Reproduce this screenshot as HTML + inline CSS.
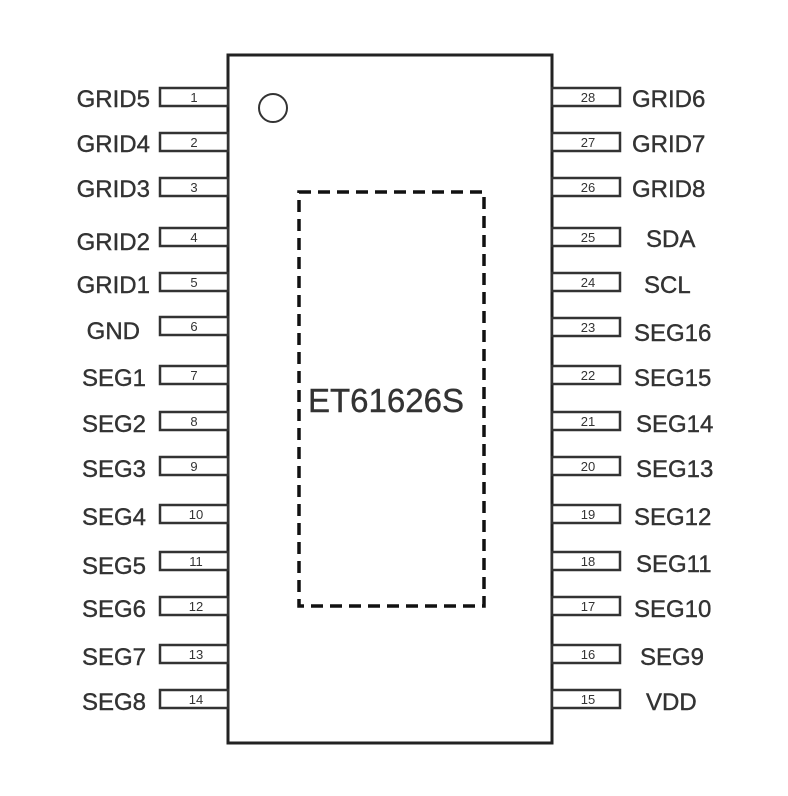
<!DOCTYPE html>
<html><head><meta charset="utf-8"><style>
html,body{margin:0;padding:0;background:#fff;}
svg{display:block;}
text{font-family:"Liberation Sans",Arial,sans-serif;fill:#333;}
.lbl text{stroke:#333;stroke-width:0.4;}
</style></head><body>
<svg width="788" height="796" viewBox="0 0 788 796" xmlns="http://www.w3.org/2000/svg">
<rect x="228" y="55" width="324" height="688" fill="#fff" stroke="#222" stroke-width="3"/>
<circle cx="273" cy="108" r="14" fill="none" stroke="#333" stroke-width="2"/>
<rect x="299" y="192" width="185" height="414" fill="none" stroke="#111" stroke-width="3.5" stroke-dasharray="12,7"/>
<text x="386" y="412" font-size="33" text-anchor="middle" style="stroke:#333;stroke-width:0.4">ET61626S</text>
<g fill="#fff" stroke="#333" stroke-width="2.5">
<rect x="160" y="88" width="68" height="18"/>
<rect x="160" y="133" width="68" height="18"/>
<rect x="160" y="178" width="68" height="18"/>
<rect x="160" y="228" width="68" height="18"/>
<rect x="160" y="273" width="68" height="18"/>
<rect x="160" y="317" width="68" height="18"/>
<rect x="160" y="366" width="68" height="18"/>
<rect x="160" y="412" width="68" height="18"/>
<rect x="160" y="457" width="68" height="18"/>
<rect x="160" y="505" width="68" height="18"/>
<rect x="160" y="552" width="68" height="18"/>
<rect x="160" y="597" width="68" height="18"/>
<rect x="160" y="645" width="68" height="18"/>
<rect x="160" y="690" width="68" height="18"/>
<rect x="552" y="88" width="68" height="18"/>
<rect x="552" y="133" width="68" height="18"/>
<rect x="552" y="178" width="68" height="18"/>
<rect x="552" y="228" width="68" height="18"/>
<rect x="552" y="273" width="68" height="18"/>
<rect x="552" y="318" width="68" height="18"/>
<rect x="552" y="366" width="68" height="18"/>
<rect x="552" y="412" width="68" height="18"/>
<rect x="552" y="457" width="68" height="18"/>
<rect x="552" y="505" width="68" height="18"/>
<rect x="552" y="552" width="68" height="18"/>
<rect x="552" y="597" width="68" height="18"/>
<rect x="552" y="645" width="68" height="18"/>
<rect x="552" y="690" width="68" height="18"/>
</g>
<g font-size="13" text-anchor="middle" style="fill:#555">
<text x="194" y="102">1</text><text x="194" y="147">2</text><text x="194" y="192">3</text><text x="194" y="242">4</text><text x="194" y="287">5</text><text x="194" y="331">6</text><text x="194" y="380">7</text><text x="194" y="426">8</text><text x="194" y="471">9</text><text x="196" y="519">10</text><text x="196" y="566">11</text><text x="196" y="611">12</text><text x="196" y="659">13</text><text x="196" y="704">14</text>
<text x="588" y="102">28</text><text x="588" y="147">27</text><text x="588" y="192">26</text><text x="588" y="242">25</text><text x="588" y="287">24</text><text x="588" y="332">23</text><text x="588" y="380">22</text><text x="588" y="426">21</text><text x="588" y="471">20</text><text x="588" y="519">19</text><text x="588" y="566">18</text><text x="588" y="611">17</text><text x="588" y="659">16</text><text x="588" y="704">15</text>
</g>
<g class="lbl" font-size="24" text-anchor="end">
<text x="150" y="107">GRID5</text><text x="150" y="152">GRID4</text><text x="150" y="197">GRID3</text><text x="150" y="250">GRID2</text><text x="150" y="293">GRID1</text><text x="140" y="339">GND</text><text x="146" y="386">SEG1</text><text x="146" y="432">SEG2</text><text x="146" y="477">SEG3</text><text x="146" y="525">SEG4</text><text x="146" y="574">SEG5</text><text x="146" y="617">SEG6</text><text x="146" y="665">SEG7</text><text x="146" y="710">SEG8</text>
</g>
<g class="lbl" font-size="24">
<text x="632" y="107">GRID6</text><text x="632" y="152">GRID7</text><text x="632" y="197">GRID8</text><text x="646" y="247">SDA</text><text x="644" y="293">SCL</text><text x="634" y="341">SEG16</text><text x="634" y="386">SEG15</text><text x="636" y="432">SEG14</text><text x="636" y="477">SEG13</text><text x="634" y="525">SEG12</text><text x="636" y="572">SEG11</text><text x="634" y="617">SEG10</text><text x="640" y="665">SEG9</text><text x="646" y="710">VDD</text>
</g>
</svg>
</body></html>
